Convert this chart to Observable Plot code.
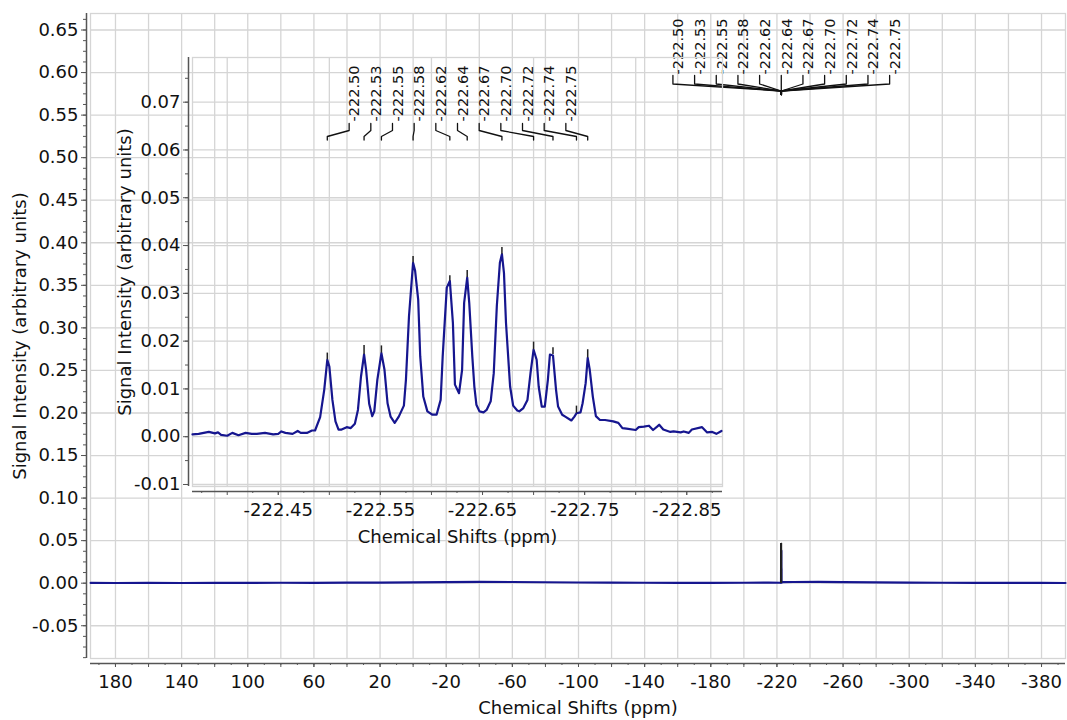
<!DOCTYPE html>
<html><head><meta charset="utf-8">
<script src="https://cdn.jsdelivr.net/npm/d3@7"></script>
<script src="https://cdn.jsdelivr.net/npm/@observablehq/plot@0.6"></script>
<style>
body{margin:0;background:#fff;}
#wrap{position:relative;width:1067px;height:720px;font-family:"DejaVu Sans",sans-serif;}
#wrap svg{position:absolute;left:0;top:0;}
</style></head><body><div id="wrap"></div>
<script>
// ---------- data ----------
const mainXLabels = [180, 140, 100, 60, 20, -20, -60, -100, -140, -180, -220, -260, -300, -340, -380];
const mainYLabels = [0.65, 0.60, 0.55, 0.50, 0.45, 0.40, 0.35, 0.30, 0.25, 0.20, 0.15, 0.10, 0.05, 0.00, -0.05];
const insetXLabels = [-222.45, -222.55, -222.65, -222.75, -222.85];
const insetXGrid = [-222.40, -222.50, -222.60, -222.70, -222.80];
const insetYLabels = [0.07, 0.06, 0.05, 0.04, 0.03, 0.02, 0.01, 0.00, -0.01];

// baseline of full spectrum outside the multiplet (ppm, intensity)
const baseLeftPpm = [195, 180, 160, 140, 120, 100, 80, 60, 40, 20, 0, -20, -40, -60, -80, -100, -120, -140, -160, -180, -200, -215];
const baseLeftVal = [0.0003, 0.0002, 0.0004, 0.0002, 0.0003, 0.0004, 0.0005, 0.0004, 0.0006, 0.0007, 0.0009, 0.0012, 0.0015, 0.0014, 0.0011, 0.0008, 0.0006, 0.0005, 0.0004, 0.0004, 0.0005, 0.0007];
const baseRightPpm = [-230, -245, -260, -280, -300, -320, -340, -360, -380, -394.5];
const baseRightVal = [0.0014, 0.0016, 0.0013, 0.0009, 0.0006, 0.0005, 0.0004, 0.0003, 0.0003, 0.0002];

// multiplet region (inset)
const insetPpm = [-222.366,-222.372,-222.382,-222.388,-222.391,-222.394,-222.400,-222.405,-222.411,-222.418,-222.424,-222.429,-222.437,-222.445,-222.450,-222.453,-222.457,-222.464,-222.469,-222.472,-222.478,-222.483,-222.486,-222.491,-222.495,-222.498,-222.500,-222.503,-222.506,-222.509,-222.512,-222.517,-222.521,-222.525,-222.528,-222.531,-222.534,-222.536,-222.539,-222.542,-222.544,-222.547,-222.551,-222.554,-222.557,-222.560,-222.564,-222.568,-222.573,-222.575,-222.578,-222.582,-222.584,-222.587,-222.589,-222.592,-222.596,-222.601,-222.605,-222.609,-222.611,-222.615,-222.618,-222.621,-222.623,-222.627,-222.630,-222.632,-222.635,-222.637,-222.640,-222.642,-222.644,-222.647,-222.651,-222.654,-222.658,-222.661,-222.664,-222.667,-222.669,-222.671,-222.673,-222.677,-222.680,-222.684,-222.686,-222.690,-222.694,-222.697,-222.700,-222.703,-222.705,-222.708,-222.711,-222.714,-222.716,-222.719,-222.722,-222.724,-222.728,-222.731,-222.737,-222.740,-222.742,-222.746,-222.748,-222.751,-222.753,-222.755,-222.758,-222.761,-222.765,-222.770,-222.778,-222.783,-222.787,-222.791,-222.800,-222.803,-222.808,-222.813,-222.817,-222.821,-222.823,-222.827,-222.834,-222.837,-222.844,-222.847,-222.852,-222.855,-222.865,-222.870,-222.875,-222.879,-222.884];
const insetVal = [0.0005,0.0006,0.0010,0.0007,0.0009,0.0004,0.0002,0.0008,0.0003,0.0008,0.0006,0.0006,0.0008,0.0005,0.0006,0.0011,0.0008,0.0006,0.0012,0.0008,0.0008,0.0013,0.0013,0.0041,0.0098,0.0161,0.0147,0.0077,0.0032,0.0015,0.0015,0.0020,0.0018,0.0027,0.0056,0.0126,0.0172,0.0140,0.0069,0.0043,0.0053,0.0119,0.0175,0.0140,0.0070,0.0042,0.0029,0.0042,0.0065,0.0119,0.0252,0.0364,0.0347,0.0287,0.0168,0.0084,0.0053,0.0046,0.0046,0.0077,0.0168,0.0312,0.0326,0.0238,0.0109,0.0091,0.0140,0.0280,0.0333,0.0280,0.0168,0.0105,0.0067,0.0053,0.0051,0.0056,0.0074,0.0133,0.0273,0.0364,0.0382,0.0343,0.0238,0.0105,0.0065,0.0055,0.0053,0.0060,0.0077,0.0133,0.0182,0.0161,0.0105,0.0063,0.0063,0.0119,0.0172,0.0170,0.0098,0.0063,0.0046,0.0042,0.0034,0.0042,0.0049,0.0051,0.0070,0.0112,0.0165,0.0140,0.0084,0.0043,0.0035,0.0035,0.0032,0.0029,0.0018,0.0017,0.0014,0.0020,0.0021,0.0023,0.0014,0.0021,0.0025,0.0015,0.0010,0.0011,0.0009,0.0011,0.0008,0.0015,0.0020,0.0009,0.0010,0.0006,0.0012];

// picked peaks
const peakPpm = [-222.498, -222.534, -222.551, -222.582, -222.618, -222.635, -222.669, -222.700, -222.719, -222.742, -222.753];
const peakLabels = ["-222.50", "-222.53", "-222.55", "-222.58", "-222.62", "-222.64", "-222.67", "-222.70", "-222.72", "-222.74", "-222.75"];
const peakHeight = [0.0161, 0.0172, 0.0175, 0.0364, 0.0326, 0.0333, 0.0382, 0.0182, 0.0172, 0.0049, 0.0165];
const peakMarkTop = [0.0175, 0.0191, 0.0190, 0.0377, 0.0337, 0.0348, 0.0396, 0.0198, 0.0186, 0.0064, 0.0182];
const mainMarkTop = 0.0467;

// ---------- style / layout ----------
const W = 1067, H = 720;
const FONT = "DejaVu Sans";
const gridColor = "#d5d5d5";
const axisColor = "#555555";
const textColor = "#111111";
const lineColor = "#16168f";
const labelSpacing = 21.67;

const mainM = {top: 13, right: 2, bottom: 62, left: 90};
const mainXDomain = [195.1, -394.5];
const mainYDomain = [-0.0885, 0.6694];
const insetW = 740, insetH = 560;
const insetM = {top: 57, right: 18, bottom: 74, left: 192};
const insetXDomain = [-222.366, -222.885];
const insetYDomain = [-0.01042, 0.07935];

const mxs = d3.scaleLinear(mainXDomain, [mainM.left, W - mainM.right]);
const mys = d3.scaleLinear(mainYDomain, [H - mainM.bottom, mainM.top]);
const ixs = d3.scaleLinear(insetXDomain, [insetM.left, insetW - insetM.right]);
const iys = d3.scaleLinear(insetYDomain, [insetH - insetM.bottom, insetM.top]);

const within = (dom) => (v) => v <= Math.max(...dom) + 1e-9 && v >= Math.min(...dom) - 1e-9;

const mainXMajor = d3.range(-19, 10).map(i => i * 20);
const mainXMinor = d3.range(-39, 20).map(i => i * 10).filter(within(mainXDomain));
const mainYMinor = d3.range(-7, 54).map(i => +(i * 0.0125).toFixed(4)).filter(within(mainYDomain));
const insetXMajor = d3.range(0, 11).map(i => +(-222.40 - i * 0.05).toFixed(3)).filter(within(insetXDomain));
const insetXMinor = d3.range(0, 11).map(i => +(-222.375 - i * 0.05).toFixed(3)).filter(within(insetXDomain));
const insetYMinor = d3.range(-2, 16).map(i => +(i * 0.005).toFixed(3)).filter(within(insetYDomain));

const peaks = peakPpm.map((p, i) => ({ppm: p, label: peakLabels[i], h: peakHeight[i], top: peakMarkTop[i], i}));
const mainSpec = [
  ...baseLeftPpm.map((p, i) => ({ppm: p, v: baseLeftVal[i]})),
  ...insetPpm.map((p, i) => ({ppm: p, v: insetVal[i]})),
  ...baseRightPpm.map((p, i) => ({ppm: p, v: baseRightVal[i]}))
];
const insetSpec = insetPpm.map((p, i) => ({ppm: p, v: insetVal[i]}));

// label spreading (pixel layout of the peak-label bracket)
function spread(xs, peaksPx) {
  const c = (peaksPx[0] + peaksPx[peaksPx.length - 1]) / 2;
  const n = peaksPx.length;
  return peaksPx.map((_, i) => xs.invert(c + (i - (n - 1) / 2) * labelSpacing));
}
const mainLabX = spread(mxs, peakPpm.map(mxs));
const insetLabX = spread(ixs, peakPpm.map(ixs));

const insetConn = peaks.flatMap((d, i) => [
  {x: insetLabX[i], y: iys.invert(123), z: i},
  {x: insetLabX[i], y: iys.invert(130), z: i},
  {x: d.ppm, y: iys.invert(136), z: i},
  {x: d.ppm, y: iys.invert(139.5), z: i}
]);
const mainConn = peaks.flatMap((d, i) => [
  {x: mainLabX[i], y: mys.invert(75), z: i},
  {x: mainLabX[i], y: mys.invert(83.5), z: i},
  {x: d.ppm, y: mys.invert(90.5), z: i},
  {x: d.ppm, y: mys.invert(94), z: i}
]);

const baseStyle = {fontFamily: FONT, fontSize: "18px", background: "transparent", color: textColor, overflow: "visible"};
const fmt2 = d => d.toFixed(2);
const blank = () => "";

// ---------- main chart ----------
const main = Plot.plot({
  width: W, height: H,
  marginTop: mainM.top, marginRight: mainM.right, marginBottom: mainM.bottom, marginLeft: mainM.left,
  x: {domain: mainXDomain, label: null},
  y: {domain: mainYDomain, label: null},
  style: baseStyle,
  marks: [
    Plot.ruleX(mainXMajor, {stroke: gridColor, strokeWidth: 1.3}),
    Plot.ruleY(mainYLabels, {stroke: gridColor, strokeWidth: 1.3}),
    Plot.frame({stroke: gridColor, strokeWidth: 1.3}),
    Plot.ruleX([mainXDomain[0]], {dx: -4, stroke: axisColor, strokeWidth: 1.5}),
    Plot.ruleY([mainYDomain[0]], {dy: 5, stroke: axisColor, strokeWidth: 1.5}),
    Plot.axisY(mainYLabels, {anchor: "left", tickSize: 5, tickPadding: 3, dx: -4, tickFormat: fmt2, stroke: axisColor, fill: textColor, label: null}),
    Plot.axisY(mainYMinor, {anchor: "left", tickSize: 3, tickPadding: 3, dx: -4, tickFormat: blank, stroke: axisColor, label: null}),
    Plot.axisX(mainXLabels, {anchor: "bottom", tickSize: 4, tickPadding: 8, dy: 5, tickFormat: d => String(d), stroke: axisColor, fill: textColor, label: null}),
    Plot.axisX(mainXMajor, {anchor: "bottom", tickSize: 4, dy: 5, tickFormat: blank, stroke: axisColor, label: null}),
    Plot.axisX(mainXMinor, {anchor: "bottom", tickSize: 2, dy: 5, tickFormat: blank, stroke: axisColor, label: null}),
    Plot.text(["Chemical Shifts (ppm)"], {frameAnchor: "bottom", dy: 55, textAnchor: "middle", fontSize: 18, fill: textColor}),
    Plot.text(["Signal Intensity (arbitrary units)"], {frameAnchor: "left", dx: -70, rotate: -90, textAnchor: "middle", fontSize: 18, fill: textColor}),
    Plot.line(mainSpec, {x: "ppm", y: "v", stroke: lineColor, strokeWidth: 2.2}),
    Plot.ruleX(peaks, {x: "ppm", y1: 0, y2: () => mainMarkTop, stroke: "#222", strokeWidth: 1.2}),
    Plot.line(mainConn, {x: "x", y: "y", z: "z", stroke: "#111", strokeWidth: 1.3}),
    Plot.text(peaks, {x: (d, i) => mainLabX[i], text: "label", frameAnchor: "top", dy: 74 - mainM.top, rotate: -90, textAnchor: "start", fontSize: 14.5, fill: textColor})
  ]
});

// ---------- inset ----------
const inset = Plot.plot({
  width: insetW, height: insetH,
  marginTop: insetM.top, marginRight: insetM.right, marginBottom: insetM.bottom, marginLeft: insetM.left,
  x: {domain: insetXDomain, label: null},
  y: {domain: insetYDomain, label: null},
  style: baseStyle,
  marks: [
    Plot.ruleX(insetXGrid, {stroke: gridColor, strokeWidth: 1.3}),
    Plot.ruleY(insetYLabels, {stroke: gridColor, strokeWidth: 1.3}),
    Plot.frame({stroke: gridColor, strokeWidth: 1.3}),
    Plot.ruleX([insetXDomain[0]], {dx: -4, stroke: axisColor, strokeWidth: 1.5}),
    Plot.ruleY([insetYDomain[0]], {dy: 5, stroke: axisColor, strokeWidth: 1.5}),
    Plot.axisY(insetYLabels, {anchor: "left", tickSize: 5, tickPadding: 3, dx: -4, tickFormat: fmt2, stroke: axisColor, fill: textColor, label: null}),
    Plot.axisY(insetYMinor, {anchor: "left", tickSize: 3, dx: -4, tickFormat: blank, stroke: axisColor, label: null}),
    Plot.axisX(insetXLabels, {anchor: "bottom", tickSize: 4, tickPadding: 8, dy: 5, tickFormat: fmt2, stroke: axisColor, fill: textColor, label: null}),
    Plot.axisX(insetXMajor, {anchor: "bottom", tickSize: 4, dy: 5, tickFormat: blank, stroke: axisColor, label: null}),
    Plot.axisX(insetXMinor, {anchor: "bottom", tickSize: 2, dy: 5, tickFormat: blank, stroke: axisColor, label: null}),
    Plot.text(["Chemical Shifts (ppm)"], {frameAnchor: "bottom", dy: 56, textAnchor: "middle", fontSize: 18, fill: textColor}),
    Plot.text(["Signal Intensity (arbitrary units)"], {frameAnchor: "left", dx: -67, rotate: -90, textAnchor: "middle", fontSize: 18, fill: textColor}),
    Plot.line(insetSpec, {x: "ppm", y: "v", stroke: lineColor, strokeWidth: 2.2}),
    Plot.ruleX(peaks, {x: "ppm", y1: "h", y2: "top", stroke: "#222", strokeWidth: 1.5}),
    Plot.line(insetConn, {x: "x", y: "y", z: "z", stroke: "#111", strokeWidth: 1.3}),
    Plot.text(peaks, {x: (d, i) => insetLabX[i], text: "label", frameAnchor: "top", dy: 121 - insetM.top, rotate: -90, textAnchor: "start", fontSize: 14.5, fill: textColor})
  ]
});

const wrap = document.getElementById("wrap");
wrap.appendChild(main);
wrap.appendChild(inset);
</script></body></html>
